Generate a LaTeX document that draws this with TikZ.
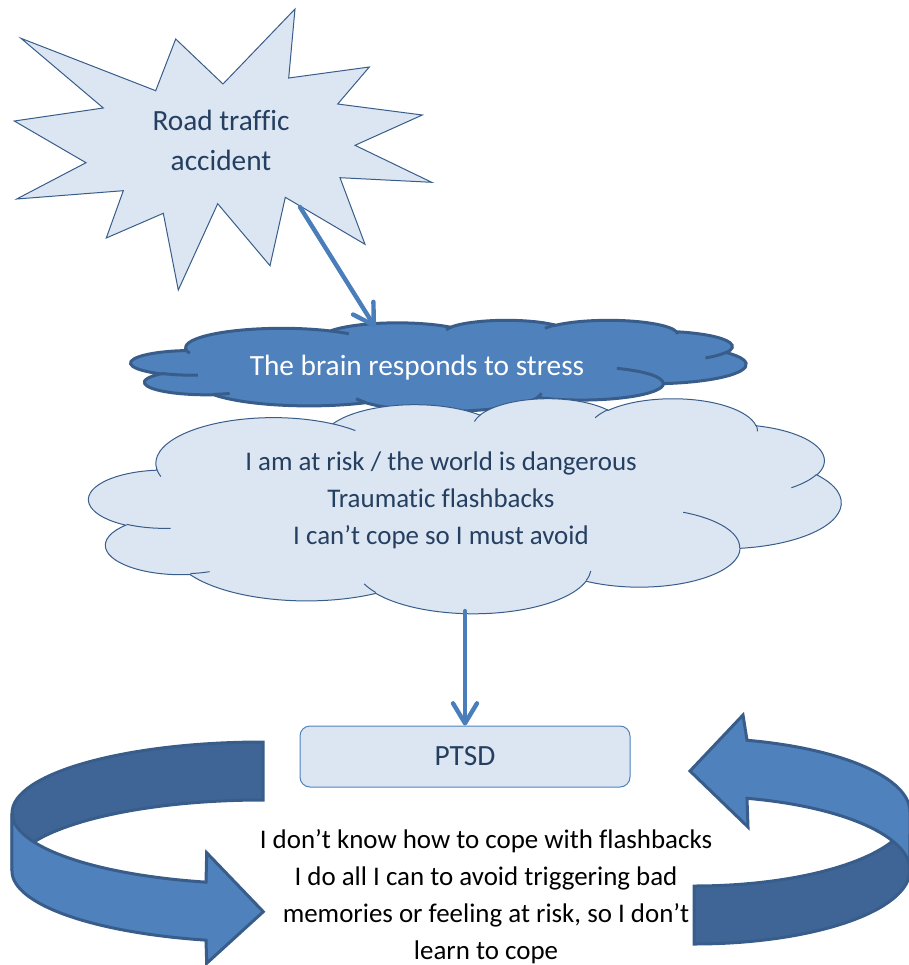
\documentclass[tikz,border=0pt]{standalone}
\usepackage{fontspec}
\setmainfont{Carlito}[Ligatures={NoCommon,NoRare,NoContextual}]
\usetikzlibrary{arrows.meta}

\definecolor{paleblue}{HTML}{DCE6F2}
\definecolor{midblue}{HTML}{4F81BD}
\definecolor{edgeblue}{HTML}{385D8A}
\definecolor{shadeblue}{HTML}{3E6596}
\definecolor{linkblue}{HTML}{4A7EBB}
\definecolor{inkblue}{HTML}{243F60}

% Elliptical arc given by x radius #1, y radius #2, start angle #3 and sweep #4,
% where the angles are measured as directions from the ellipse centre
% (converted here to the parametric angles that TikZ expects).
\newcommand\carc[4]{arc[x radius=#1, y radius=#2,
  start angle={atan2((#1)*sin(#3),(#2)*cos(#3))},
  delta angle={mod(atan2((#1)*sin((#3)+(#4)),(#2)*cos((#3)+(#4)))-atan2((#1)*sin(#3),(#2)*cos(#3))+720,360)}]}

% Cloud outline in a 43.2 x 43.2 box
\newcommand\cloudoutline{(3.9,14.37)
  \carc{6.753}{9.19}{-190.4875}{123.7805}
  \carc{5.333}{7.267}{-144.1024}{89.9452}
  \carc{4.365}{5.945}{-145.8079}{99.7230}
  \carc{4.857}{6.595}{-130.9861}{117.2417}
  \carc{5.333}{7.273}{-78.7089}{109.0269}
  \carc{6.775}{9.22}{-46.2673}{130.2690}
  \carc{5.785}{7.867}{0.6250}{114.0333}
  \carc{6.752}{9.215}{22.4516}{115.1726}
  \carc{7.72}{10.543}{66.2426}{75.7110}
  \carc{4.36}{5.918}{-274.9421}{146.7356}
  \carc{4.345}{5.945}{-246.8285}{152.5189} -- cycle}

% Short inner folds between the puffs
\newcommand\cloudfolds{%
  (4.693,26.177) \carc{4.345}{5.945}{86.7420}{26.4295}
  (6.928,34.899) \carc{4.36}{5.918}{73.6105}{11.4475}
  (16.478,39.09) \carc{6.752}{9.215}{137.6242}{14.0811}
  (28.827,34.751) \carc{6.752}{9.215}{6.4533}{15.9984}
  (34.129,22.954) \carc{5.785}{7.867}{-70.2924}{70.9174}
  (41.798,15.354) \carc{5.333}{7.273}{30.3180}{27.7515}
  (38.324,5.426) \carc{4.857}{6.595}{-13.7443}{14.8589}
  (29.078,3.952) \carc{4.857}{6.595}{-149.1815}{18.1954}
  (22.141,4.72) \carc{4.365}{5.945}{-163.4943}{17.6864}
  (14.0,5.192) \carc{6.753}{9.19}{-66.707}{12.3194}
  (4.127,15.789) \carc{6.753}{9.19}{157.6544}{11.8582}}

\begin{document}
\begin{tikzpicture}[x=0.75pt,y=-0.75pt,
  softshape/.style={fill=paleblue, draw=edgeblue, line width=0.75pt},
  stressshape/.style={fill=midblue, draw=edgeblue, line width=2.25pt},
  link/.style={draw=linkblue, line width=3.3pt, line cap=round,
    -{Straight Barb[length=15pt,width=18pt,line cap=round,line join=round]}},
  backband/.style={fill=shadeblue, draw=edgeblue, line width=2.25pt},
  frontband/.style={fill=midblue, draw=edgeblue, line width=2.25pt},
  caption/.style={align=center, inner sep=0pt, text=inkblue}]

\useasboundingbox (0,0) rectangle (908,965);

% Explosion
\path[softshape] (21,38.3) -- (155.7,90.7) -- (175.7,39) -- (223,84)
  -- (295,9) -- (288.7,78) -- (369.3,67) -- (337.7,104) -- (422.3,115)
  -- (355,145.3) -- (431.7,182.3) -- (340,177.7) -- (365,244.3)
  -- (285.3,197.3) -- (270,265.7) -- (217.7,203.7) -- (178.3,290)
  -- (163.3,213.3) -- (106.3,238) -- (123.3,190.7) -- (16.7,199)
  -- (86,162.7) -- (14.3,121) -- (103.3,108) -- cycle;
\node[caption, font=\fontsize{22}{30}\selectfont] (burst) at (221,140)
  {Road traffic\\accident};

% Stress cloud
\begin{scope}[shift={(131,320)}, x=10.677pt, y=-1.5799pt]
  \path[stressshape] \cloudoutline;
  \path[draw=edgeblue, line width=2.25pt] \cloudfolds;
\end{scope}
\node[caption, text=white, font=\fontsize{22}{26}\selectfont] (brain) at (417,368)
  {The brain responds to stress};

% Beliefs cloud
\begin{scope}[shift={(89,398)}, x=13.0556pt, y=-3.7326pt]
  \path[softshape] \cloudoutline;
  \path[draw=edgeblue, line width=0.75pt] \cloudfolds;
\end{scope}
\node[caption, font=\fontsize{20.2}{27.75}\selectfont] (beliefs) at (441,500)
  {I am at risk / the world is dangerous\\Traumatic flashbacks\\I can’t cope so I must avoid};

% Connectors
\coordinate (burstfoot) at (300,207);
\coordinate (brainhead) at (375,327);
\draw[link] (burstfoot) -- (brainhead);

\node[softshape, draw=midblue, rounded corners=7.5pt, minimum width=247.5pt,
  minimum height=45.75pt, inner sep=0pt, text=inkblue,
  font=\fontsize{22}{26}\selectfont] (ptsd) at (465,756.5) {PTSD};

\coordinate (beliefsfoot) at (465,611);
\draw[link] (beliefsfoot) -- (ptsd.north);

% Left curved arrow: back band, then front band with head
\path[backband] (263,742) arc[start angle=-90, end angle=-180, x radius=251, y radius=71]
  -- (12,871) arc[start angle=180, end angle=270, x radius=251, y radius=71] -- cycle;
\path[frontband] (12,813) arc[start angle=180, end angle=103.126, x radius=251, y radius=71]
  -- (206.7,852.7) -- (263.3,911.7) -- (206.7,963.3) -- (206,940.15)
  arc[start angle=103.126, end angle=180, x radius=251, y radius=71] -- cycle;

% Right curved arrow: back band, then front band with head
\path[backband] (694,944) arc[start angle=90, end angle=0, x radius=216, y radius=74]
  -- (910,812) arc[start angle=0, end angle=90, x radius=216, y radius=74] -- cycle;
\path[frontband] (910,812) arc[start angle=0, end angle=-75.79, x radius=216, y radius=74]
  -- (743,715) -- (690,771) -- (748,827) -- (747,798.3)
  arc[start angle=-75.79, end angle=0, x radius=216, y radius=74] -- cycle;

\node[align=center, inner sep=0pt, text=black, font=\fontsize{20.2}{27.75}\selectfont]
  (copetext) at (486,897)
  {I don’t know how to cope with flashbacks\\I do all I can to avoid triggering bad\\memories or feeling at risk, so I don’t\\learn to cope};

\end{tikzpicture}
\end{document}
